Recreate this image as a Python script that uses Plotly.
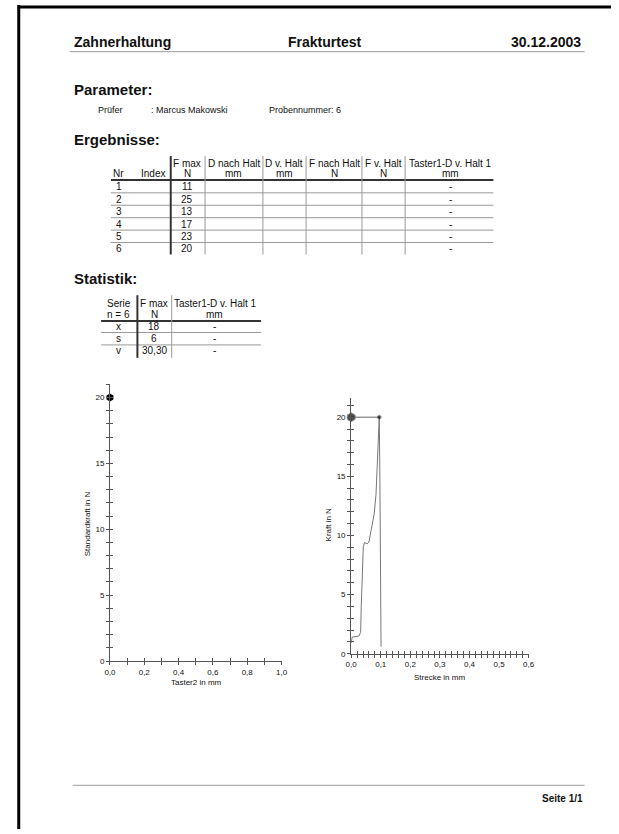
import plotly.graph_objects as go

W, H = 619, 834

# ---------------- data ----------------
nr = ["1", "2", "3", "4", "5", "6"]
fmax = ["11", "25", "13", "17", "23", "20"]
taster1 = ["-", "-", "-", "-", "-", "-"]
col_head1 = ["", "", "F max", "D nach Halt", "D v. Halt", "F nach Halt", "F v. Halt", "Taster1-D v. Halt 1"]
col_head2 = ["Nr", "Index", "N", "mm", "mm", "N", "N", "mm"]

stat_labels = ["x", "s", "v"]
stat_fmax = ["18", "6", "30,30"]
stat_taster = ["-", "-", "-"]
stat_head1 = ["Serie", "F max", "Taster1-D v. Halt 1"]
stat_head2 = ["n = 6", "N", "mm"]

# left chart: Standardkraft vs Taster2
left_x = [0.0]
left_y = [20]

# right chart: Kraft vs Strecke
curve_x = [0.000, 0.001, 0.003, 0.026, 0.032, 0.034, 0.038, 0.041, 0.045, 0.054, 0.060,
           0.065, 0.071, 0.078, 0.084, 0.087, 0.090, 0.094, 0.095, 0.097, 0.099, 0.100, 0.101]
curve_y = [0.9, 1.2, 1.4, 1.5, 1.8, 4.0, 7.6, 9.05, 9.4, 9.3, 9.45,
           10.2, 11.0, 11.85, 13.5, 15.2, 17.2, 19.4, 20.0, 15.0, 6.0, 2.0, 0.6]
fmax_x = [0.0, 0.095]
fmax_y = [20, 20]

# ---------------- helpers ----------------
def px(x):
    return x / W

def py(y):
    return 1 - y / H

FONT = "Liberation Sans, Arial, sans-serif"
TXT = "#111111"
LINE = "#666666"

annotations = []
shapes = []

def text(x, y, s, size=9, bold=False, xanchor="center", color=TXT, angle=0):
    annotations.append(dict(
        x=px(x), y=py(y), xref="paper", yref="paper", text=("<b>%s</b>" % s) if bold else s,
        showarrow=False, xanchor=xanchor, yanchor="middle", textangle=angle,
        font=dict(family=FONT, size=size, color=color)))

def hline(x0, x1, y, w=1, color=LINE):
    shapes.append(dict(type="line", xref="paper", yref="paper", x0=px(x0), x1=px(x1),
                       y0=py(y), y1=py(y), line=dict(color=color, width=w)))

def vline(x, y0, y1, w=1, color=LINE):
    shapes.append(dict(type="line", xref="paper", yref="paper", x0=px(x), x1=px(x),
                       y0=py(y0), y1=py(y1), line=dict(color=color, width=w)))

# page border (scan edge)
vline(13, 5, 834, w=3, color="#000000")
hline(12, 617, 7, w=3, color="#000000")

# header
text(67, 42, "Zahnerhaltung", size=14, bold=True, xanchor="left")
text(325, 42, "Frakturtest", size=14, bold=True)
text(588, 42, "30.12.2003", size=14, bold=True, xanchor="right")
hline(65, 590, 52, w=1, color="#999999")

text(67, 90, "Parameter:", size=15, bold=True, xanchor="left")
text(92, 111, "Prüfer", size=9, xanchor="left")
text(146, 111, ": Marcus Makowski", size=9, xanchor="left")
text(266, 111, "Probennummer: 6", size=9, xanchor="left")

text(67, 140, "Ergebnisse:", size=15, bold=True, xanchor="left")

# results table
TF = 10
col_cx = [115, 150, 185, 232, 284, 335, 385, 453]
for cx, h1, h2 in zip(col_cx, col_head1, col_head2):
    if h1:
        text(cx, 164.5, h1, size=TF)
    text(cx, 175, h2, size=TF)
row_y = [188, 200.5, 213, 225.5, 238, 250]
for ry, n, f, t in zip(row_y, nr, fmax, taster1):
    text(col_cx[0], ry, n, size=TF)
    text(col_cx[2], ry, f, size=TF)
    text(col_cx[7], ry, t, size=TF)
hline(107, 497, 181, w=2, color="#333333")
for ly in [194, 206.5, 219, 231.5, 244]:
    hline(107, 497, ly, w=1, color="#999999")
vline(168, 157, 256, w=2, color="#333333")
for lx in [203, 262, 306, 363, 407]:
    vline(lx, 157, 256, w=1, color="#999999")

# statistics
text(67, 280, "Statistik:", size=15, bold=True, xanchor="left")
st_cx = [115, 151, 213]
for cx, h1, h2 in zip(st_cx, stat_head1, stat_head2):
    text(cx, 305, h1, size=TF)
    text(cx, 316, h2, size=TF)
st_row = [328.5, 341, 353]
for ry, l, f, t in zip(st_row, stat_labels, stat_fmax, stat_taster):
    text(st_cx[0], ry, l, size=TF)
    text(st_cx[1], ry, f, size=TF)
    text(st_cx[2], ry, t, size=TF)
hline(97, 260, 323, w=2, color="#333333")
for ly in [334.5, 347]:
    hline(97, 260, ly, w=1, color="#999999")
vline(134, 297, 360, w=2, color="#333333")
vline(169, 297, 360, w=1, color="#999999")

# footer
hline(68, 590, 790, w=1, color="#999999")
text(590, 803, "Seite 1/1", size=10, bold=True, xanchor="right")

# axis titles
text(194, 687, "Taster2 in mm", size=8)
text(83, 527, "Standardkraft in N", size=8, angle=-90)
text(442, 682, "Strecke in mm", size=8)
text(329, 528, "Kraft in N", size=8, angle=-90)

# ---------------- figure ----------------
fig = go.Figure()

fig.add_trace(go.Scatter(x=left_x, y=left_y, mode="markers", xaxis="x", yaxis="y",
                         marker=dict(color="#000000", size=8, symbol="hexagon"),
                         cliponaxis=False, showlegend=False, hoverinfo="skip"))
fig.add_trace(go.Scatter(x=curve_x, y=curve_y, mode="lines", xaxis="x2", yaxis="y2",
                         line=dict(color="#777777", width=1), cliponaxis=False,
                         showlegend=False, hoverinfo="skip"))
fig.add_trace(go.Scatter(x=fmax_x, y=fmax_y, mode="lines+markers", xaxis="x2", yaxis="y2",
                         line=dict(color="#666666", width=1),
                         marker=dict(color="#000000", size=[9, 4], symbol="hexagon"),
                         cliponaxis=False, showlegend=False, hoverinfo="skip"))
# empty traces binding the overlay (tick-crossing) axes
fig.add_trace(go.Scatter(x=[None], y=[None], xaxis="x3", yaxis="y3", showlegend=False, hoverinfo="skip"))
fig.add_trace(go.Scatter(x=[None], y=[None], xaxis="x4", yaxis="y4", showlegend=False, hoverinfo="skip"))

# left chart geometry
L_x0, L_x1 = 106, 281
L_y0 = 665
L_ppu = 13.25
L_ymax = 21.0
# right chart geometry
R_x0, R_x1 = 352, 533
R_y0 = 657.7
R_ppu = 11.9
R_ymax = 21.6

ldx = [px(L_x0), px(L_x1)]
ldy = [py(L_y0), py(L_y0 - L_ymax * L_ppu)]
rdx = [px(R_x0), px(R_x1)]
rdy = [py(R_y0), py(R_y0 - R_ymax * R_ppu)]

tickfont = dict(family=FONT, size=8, color=TXT)
axline = dict(showline=True, linecolor="#555555", linewidth=1, showgrid=False, zeroline=False)

def xax(domain, rng, dtick, mdtick, anchor, ticks, labels, overlay=None):
    d = dict(domain=domain, range=rng, anchor=anchor, dtick=dtick, tick0=0, ticks=ticks, ticklen=3,
             tickcolor="#555555", tickwidth=1, showticklabels=labels, tickformat=".1f",
             tickfont=tickfont, fixedrange=True,
             minor=dict(dtick=mdtick, tick0=0, ticks=ticks, ticklen=3, tickcolor="#555555", tickwidth=1),
             **axline)
    if overlay:
        d.update(overlaying=overlay, showline=False)
        d.pop("domain")
    return d

def yax(domain, rng, anchor, ticks, labels, overlay=None):
    d = dict(domain=domain, range=rng, anchor=anchor, dtick=5, tick0=0, ticks=ticks, ticklen=3,
             tickcolor="#555555", tickwidth=1, showticklabels=labels, tickfont=tickfont, fixedrange=True,
             minor=dict(dtick=1, tick0=0, ticks=ticks, ticklen=3, tickcolor="#555555", tickwidth=1),
             **axline)
    if overlay:
        d.update(overlaying=overlay, showline=False)
        d.pop("domain")
    return d

fig.update_layout(
    width=W, height=H, margin=dict(l=0, r=0, t=0, b=0),
    paper_bgcolor="#ffffff", plot_bgcolor="rgba(0,0,0,0)",
    separators=",.",
    showlegend=False,
    xaxis=xax(ldx, [0, 1.0], 0.2, 0.1, "y", "outside", True),
    yaxis=yax(ldy, [0, L_ymax], "x", "outside", True),
    xaxis2=xax(rdx, [0, 0.6], 0.1, 0.02, "y2", "outside", True),
    yaxis2=yax(rdy, [0, R_ymax], "x2", "outside", True),
    xaxis3=xax(ldx, [0, 1.0], 0.2, 0.1, "y", "inside", False, overlay="x"),
    yaxis3=yax(ldy, [0, L_ymax], "x", "inside", False, overlay="y"),
    xaxis4=xax(rdx, [0, 0.6], 0.1, 0.02, "y2", "inside", False, overlay="x2"),
    yaxis4=yax(rdy, [0, R_ymax], "x2", "inside", False, overlay="y2"),
    annotations=annotations,
    shapes=shapes,
)

fig.write_html("out.html", config={"displayModeBar": False, "staticPlot": True},
               post_script="document.body.style.margin='0';document.body.style.overflow='hidden';")
